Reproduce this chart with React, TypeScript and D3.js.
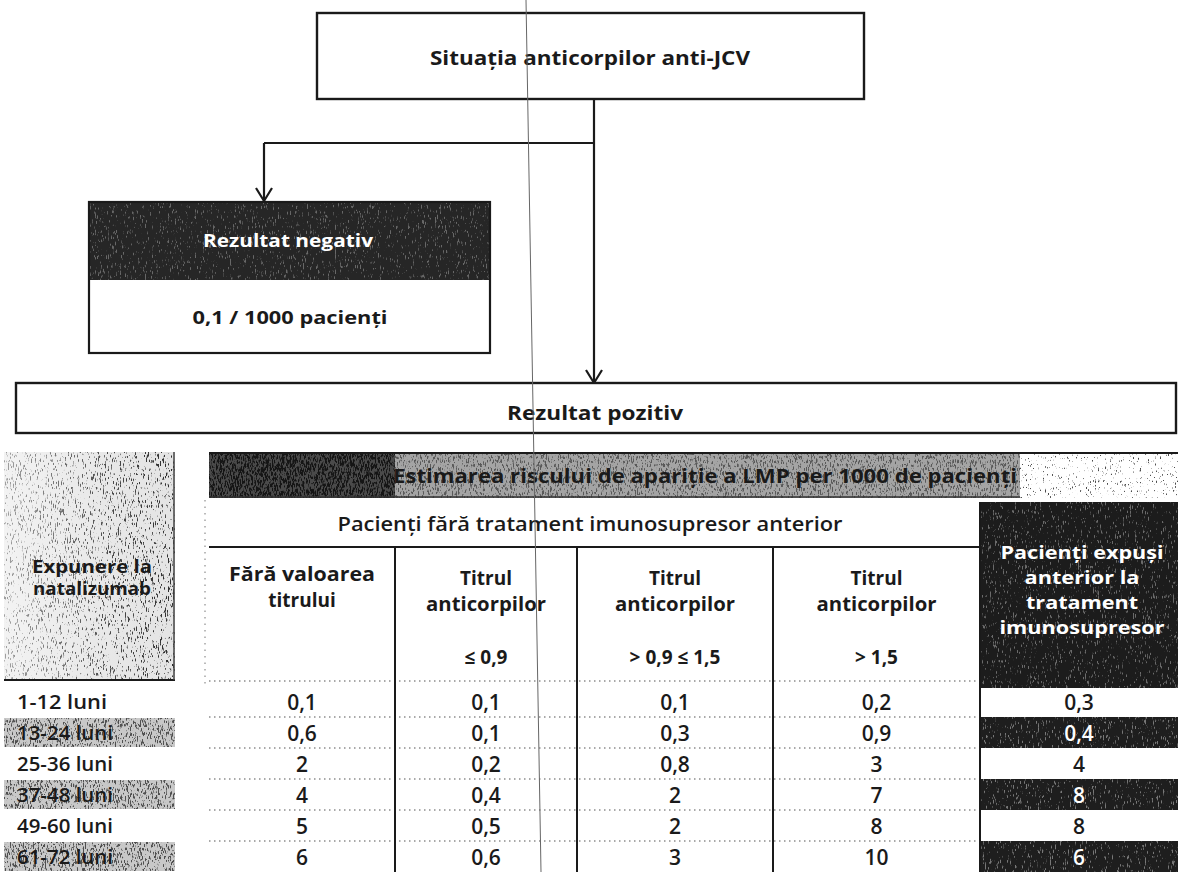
import React from "react";
import * as d3 from "d3";

// texts of the flow chart
const title = "Situația anticorpilor anti-JCV";
const negLabel = "Rezultat negativ";
const negValue = "0,1 / 1000 pacienți";
const posLabel = "Rezultat pozitiv";
const tableTitle = "Estimarea riscului de apariție a LMP per 1000 de pacienți";
const groupLabel = "Pacienți fără tratament imunosupresor anterior";
const exposureLabel = ["Expunere la", "natalizumab"];
const priorLabel = ["Pacienți expuși", "anterior la", "tratament", "imunosupresor"];

// table rows and columns
const rowLabels = ["1-12 luni", "13-24 luni", "25-36 luni", "37-48 luni", "49-60 luni", "61-72 luni"];
const colHeaders = [
  ["Fără valoarea", "titrului"],
  ["Titrul", "anticorpilor"],
  ["Titrul", "anticorpilor"],
  ["Titrul", "anticorpilor"],
];
const colLimits = ["", "≤ 0,9", "> 0,9 ≤ 1,5", "> 1,5"];

// risk per 1000 patients
const noTiter = [0.1, 0.6, 2, 4, 5, 6];
const titerLow = [0.1, 0.1, 0.2, 0.4, 0.5, 0.6];
const titerMid = [0.1, 0.3, 0.8, 2, 2, 3];
const titerHigh = [0.2, 0.9, 3, 7, 8, 10];
const priorImmuno = [0.3, 0.4, 4, 8, 8, 6];

const W = 1178;
const H = 872;
const FONT = "'Open Sans', 'DejaVu Sans', sans-serif";
const INK = "#1a1a1a";

const fmt = d3
  .formatLocale({ decimal: ",", thousands: ".", grouping: [3], currency: ["", ""] })
  .format("~g");

// scanned-paper speckle texture
const Grain = ({ id, white, t, fx, fy, seed }: { id: string; white?: boolean; t: number; fx: number; fy: number; seed: number }) => {
  const c = white ? 1 : 0;
  const k = 9;
  return (
    <filter id={id} x="0" y="0" width="1" height="1">
      <feTurbulence type="fractalNoise" baseFrequency={`${fx} ${fy}`} numOctaves={2} seed={seed} result="t" />
      <feColorMatrix
        in="t"
        type="matrix"
        values={`0 0 0 0 ${c}  0 0 0 0 ${c}  0 0 0 0 ${c}  ${k} 0 0 0 ${-k * t}`}
        result="m"
      />
      <feComposite in="m" in2="SourceAlpha" operator="in" />
    </filter>
  );
};

const Txt = (p: any) => (
  <text
    fontFamily={FONT}
    fontWeight={p.weight ?? 700}
    fontSize={p.size ?? 18}
    textAnchor={p.anchor ?? "middle"}
    dominantBaseline="central"
    fill={p.fill ?? INK}
    x={p.x}
    y={p.y}
    textLength={p.len}
    lengthAdjust={p.len ? "spacingAndGlyphs" : undefined}
  >
    {p.children}
  </text>
);

export default function App() {
  const colX = [209, 395, 577, 773, 980, 1178];
  const cols = [noTiter, titerLow, titerMid, titerHigh, priorImmuno];
  const colMid = d3.range(cols.length).map((i) => (colX[i] + colX[i + 1]) / 2);

  const y = d3.scaleBand<string>().domain(rowLabels).range([686, 872]);
  const bw = y.bandwidth();

  const mainX = 594;
  const branchY = 143;
  const negX = 264;

  const arrow = (x: number, yy: number) => `M${x - 8},${yy - 13}L${x},${yy}L${x + 8},${yy - 13}`;

  return (
    <svg
      width={W}
      height={H}
      style={{ position: "absolute", left: 0, top: 0, background: "#fff" }}
    >
      <defs>
        <Grain id="gLight" t={0.6} fx={1.4} fy={0.22} seed={3} />
        <Grain id="gMid" t={0.54} fx={1.4} fy={0.25} seed={5} />
        <Grain id="gDense" t={0.46} fx={1.4} fy={0.25} seed={9} />
        <Grain id="gSparse" t={0.66} fx={1.4} fy={0.3} seed={11} />
        <Grain id="gWhite" white t={0.62} fx={1.4} fy={0.2} seed={13} />
        <linearGradient id="fadeLeft" x1="0" x2="1" y1="0" y2="0">
          <stop offset="0%" stopColor="#fff" stopOpacity={0.55} />
          <stop offset="60%" stopColor="#fff" stopOpacity={0.15} />
          <stop offset="100%" stopColor="#fff" stopOpacity={0} />
        </linearGradient>
      </defs>
      <rect width={W} height={H} fill="#fff" />

      {/* top box */}
      <rect x={317} y={13} width={547} height={86} fill="#fff" stroke={INK} strokeWidth={2.4} />
      <Txt x={590} y={58} size={19} len={320}>{title}</Txt>

      {/* connectors */}
      <g stroke={INK} strokeWidth={2.2} fill="none">
        <line x1={mainX} y1={99} x2={mainX} y2={383} />
        <line x1={negX} y1={branchY} x2={mainX} y2={branchY} />
        <line x1={negX} y1={branchY} x2={negX} y2={201} />
        <path d={arrow(negX, 201)} />
        <path d={arrow(mainX, 383)} />
      </g>

      {/* negative result */}
      <rect x={89} y={202} width={401} height={78} fill="#262626" />
      <rect x={89} y={202} width={401} height={78} fill="#000" filter="url(#gWhite)" opacity={0.3} />
      <rect x={89} y={202} width={401} height={151} fill="none" stroke={INK} strokeWidth={2.2} />
      <Txt x={288} y={240} size={17} fill="#fff" len={170}>{negLabel}</Txt>
      <Txt x={290} y={317} size={18} len={195}>{negValue}</Txt>

      {/* positive result */}
      <rect x={16} y={383} width={1160} height={50} fill="#fff" stroke={INK} strokeWidth={2.4} />
      <Txt x={595} y={412} size={20} len={176}>{posLabel}</Txt>

      {/* exposure column header */}
      <rect x={4} y={452} width={171} height={228} fill="#e4e4e4" />
      <rect x={4} y={452} width={171} height={228} fill="#000" filter="url(#gLight)" opacity={0.8} />
      <rect x={4} y={452} width={171} height={228} fill="url(#fadeLeft)" />
      <line x1={4} y1={680} x2={175} y2={680} stroke={INK} strokeWidth={2} />
      <line x1={174} y1={452} x2={174} y2={680} stroke="#444" strokeWidth={1.5} />
      {exposureLabel.map((s, i) => (
        <Txt key={s} x={92} y={566 + i * 22} size={17} len={[120, 118][i]}>{s}</Txt>
      ))}

      {/* table title band */}
      <rect x={209} y={452} width={186} height={46} fill="#4a4a4a" />
      <rect x={209} y={452} width={186} height={46} fill="#000" filter="url(#gDense)" opacity={0.7} />
      <rect x={395} y={452} width={625} height={46} fill="#a4a4a4" />
      <rect x={395} y={452} width={625} height={46} fill="#000" filter="url(#gMid)" opacity={0.45} />
      <rect x={1020} y={452} width={158} height={46} fill="#000" filter="url(#gSparse)" opacity={0.7} />
      <line x1={209} y1={453} x2={W} y2={453} stroke={INK} strokeWidth={2} />
      <line x1={209} y1={497} x2={1020} y2={497} stroke="#333" strokeWidth={1.5} />
      <Txt x={705} y={476} size={19} len={624}>{tableTitle}</Txt>

      {/* group header */}
      <Txt x={590} y={523} size={20} weight={600} len={505}>{groupLabel}</Txt>
      <line x1={209} y1={547} x2={980} y2={547} stroke={INK} strokeWidth={2} />
      <line x1={205} y1={500} x2={205} y2={684} stroke="#777" strokeWidth={1} strokeDasharray="1.5 5" />

      {/* column headers */}
      {colHeaders.map((lines, i) => (
        <g key={i}>
          {lines.map((s, j) => (
            <Txt
              key={j}
              x={colMid[i]}
              y={(i === 0 ? 574 : 578) + j * 26}
              size={19}
              weight={700}
              len={s === "anticorpilor" ? 120 : s === "Fără valoarea" ? 146 : undefined}
            >
              {s}
            </Txt>
          ))}
          {colLimits[i] && (
            <Txt x={colMid[i]} y={657} size={19} weight={700}>{colLimits[i]}</Txt>
          )}
        </g>
      ))}

      {/* prior immunosuppressant header */}
      <rect x={980} y={502} width={198} height={186} fill="#1c1c1c" />
      <rect x={980} y={502} width={198} height={186} fill="#000" filter="url(#gWhite)" opacity={0.35} />
      {priorLabel.map((s, i) => (
        <Txt key={s} x={1082} y={552 + i * 25} size={17} fill="#fff" len={[163, 115, 112, 165][i]}>{s}</Txt>
      ))}

      {/* row backgrounds */}
      {rowLabels.map((r, i) =>
        i % 2 === 1 ? (
          <g key={r}>
            <rect x={4} y={y(r)! + 1} width={171} height={bw - 2} fill="#c8c8c8" />
            <rect x={4} y={y(r)! + 1} width={171} height={bw - 2} fill="#000" filter="url(#gMid)" opacity={0.6} />
            <rect x={980} y={y(r)!} width={198} height={bw} fill="#1e1e1e" />
            <rect x={980} y={y(r)!} width={198} height={bw} fill="#000" filter="url(#gWhite)" opacity={0.4} />
          </g>
        ) : null
      )}

      {/* dotted row separators */}
      {[681, ...rowLabels.slice(1).map((r) => y(r)!)].map((yy, i) => (
        <line key={i} x1={209} y1={yy} x2={980} y2={yy} stroke="#555" strokeWidth={1.2} strokeDasharray="1.5 3.5" />
      ))}

      {/* column rules */}
      {colX.slice(1, 4).map((x) => (
        <line key={x} x1={x} y1={547} x2={x} y2={H} stroke={INK} strokeWidth={2} />
      ))}
      <line x1={980} y1={502} x2={980} y2={H} stroke={INK} strokeWidth={2} />

      {/* row labels */}
      {rowLabels.map((r) => (
        <Txt key={r} x={17} y={y(r)! + bw / 2} anchor="start" size={20} weight={600} len={r.length === 9 ? 90 : 96}>{r}</Txt>
      ))}

      {/* values */}
      {cols.map((vals, ci) =>
        vals.map((v, ri) => (
          <Txt
            key={`${ci}-${ri}`}
            x={colMid[ci]}
            y={y(rowLabels[ri])! + bw / 2}
            size={21}
            weight={600}
            fill={ci === 4 && ri % 2 === 1 ? "#fff" : INK}
          >
            {fmt(v)}
          </Txt>
        ))
      )}

      {/* scanner streak */}
      <line x1={526} y1={0} x2={541} y2={H} stroke="#666" strokeWidth={1} />
    </svg>
  );
}
